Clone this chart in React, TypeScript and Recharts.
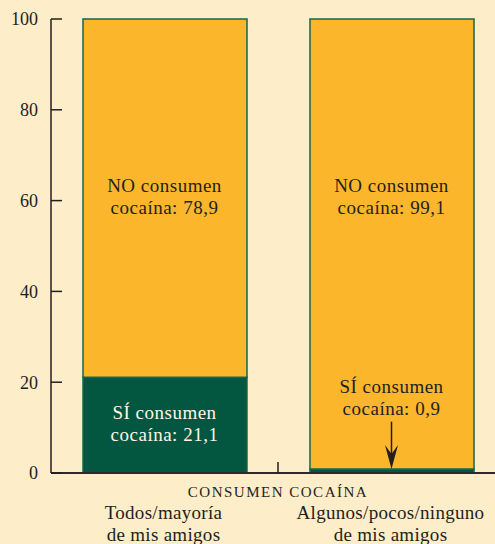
import React from "react"
import {
  ComposedChart,
  Bar,
  XAxis,
  YAxis,
  ReferenceDot,
  ReferenceLine,
} from "recharts"

const categories = [
  ["Todos/mayoría", "de mis amigos"],
  ["Algunos/pocos/ninguno", "de mis amigos"],
]
const siValues = [21.1, 0.9]
const noValues = [78.9, 99.1]
const yTicks = [0, 20, 40, 60, 80, 100]
const axisTitle = "CONSUMEN COCAÍNA"
const noLabelAt = [60.8, 60.8]
const siLabelAt = [11, 16.7]
const arrowFrom = 11.3
const arrowTo = 0.9

const BG = "#FDEDC9"
const ORANGE = "#FBB62B"
const GREEN = "#03563F"
const EDGE = "#17664C"
const INK = "#231F20"
const FONT = '"Liberation Serif", "Times New Roman", serif'

const data = categories.map((c, i) => ({
  pos: i + 0.5,
  si: siValues[i],
  no: noValues[i],
}))

function TwoLines({ cx, cy, lines, fill }: any) {
  return (
    <text
      x={cx}
      y={cy}
      textAnchor="middle"
      fontFamily={FONT}
      fontSize={19}
      letterSpacing={0.5}
      fill={fill}
    >
      <tspan x={cx} y={cy - 4.5}>{lines[0]}</tspan>
      <tspan x={cx} y={cy + 17.5}>{lines[1]}</tspan>
    </text>
  )
}

function XTick({ x, y, payload }: any) {
  const v = payload.value
  if (v === 1) {
    return (
      <g>
        <line x1={x} y1={y} x2={x} y2={y - 11} stroke={INK} strokeWidth={1.5} />
        <text
          x={x}
          y={y + 24}
          textAnchor="middle"
          fontFamily={FONT}
          fontSize={15}
          letterSpacing={1.5}
          fill={INK}
        >
          {axisTitle}
        </text>
      </g>
    )
  }
  const lines = categories[Math.floor(v)]
  return (
    <text
      x={x}
      y={y}
      textAnchor="middle"
      fontFamily={FONT}
      fontSize={19}
      letterSpacing={0.3}
      fill={INK}
    >
      <tspan x={x - 1} y={y + 46}>{lines[0]}</tspan>
      <tspan x={x - 1} y={y + 68}>{lines[1]}</tspan>
    </text>
  )
}

function Arrow({ x1, y1, x2, y2 }: any) {
  return (
    <g>
      <line x1={x1} y1={y1} x2={x2} y2={y2 - 10} stroke={INK} strokeWidth={1.5} />
      <path
        d={`M${x2},${y2} L${x2 - 6.5},${y2 - 24} L${x2},${y2 - 15} L${x2 + 6.5},${y2 - 24} Z`}
        fill={INK}
      />
    </g>
  )
}

export default function App() {
  return (
    <div
      style={{
        position: "absolute",
        left: 0,
        top: 0,
        width: 495,
        height: 544,
        overflow: "hidden",
        background: BG,
      }}
    >
      <ComposedChart
        width={520}
        height={544}
        data={data}
        margin={{ top: 19, right: 15, bottom: 0, left: 0 }}
      >
        <XAxis
          dataKey="pos"
          type="number"
          domain={[0, 2]}
          ticks={[0.5, 1, 1.5]}
          tick={<XTick />}
          tickLine={false}
          tickSize={0}
          tickMargin={0}
          height={71}
          axisLine={{ stroke: "#2E2A25", strokeWidth: 2 }}
          interval={0}
        />
        <YAxis
          domain={[0, 100]}
          ticks={yTicks}
          width={51}
          tickSize={-11}
          tickMargin={24}
          axisLine={{ stroke: INK, strokeWidth: 1.5 }}
          tickLine={{ stroke: INK, strokeWidth: 1.5 }}
          tick={{ fontFamily: FONT, fontSize: 18, fill: INK }}
        />
        <Bar
          dataKey="si"
          stackId="a"
          fill={GREEN}
          stroke={EDGE}
          strokeWidth={1.5}
          barSize={164}
          isAnimationActive={false}
        />
        <Bar
          dataKey="no"
          stackId="a"
          fill={ORANGE}
          stroke={EDGE}
          strokeWidth={1.5}
          barSize={164}
          isAnimationActive={false}
        />
        {data.map((d, i) => (
          <ReferenceDot
            key={"no" + i}
            x={d.pos}
            y={noLabelAt[i]}
            r={0}
            shape={(p: any) => (
              <TwoLines
                cx={p.cx}
                cy={p.cy}
                lines={["NO consumen", `cocaína: ${String(d.no).replace(".", ",")}`]}
                fill={INK}
              />
            )}
          />
        ))}
        {data.map((d, i) => (
          <ReferenceDot
            key={"si" + i}
            x={d.pos}
            y={siLabelAt[i]}
            r={0}
            shape={(p: any) => (
              <TwoLines
                cx={p.cx}
                cy={p.cy}
                lines={["SÍ consumen", `cocaína: ${String(d.si).replace(".", ",")}`]}
                fill={i === 0 ? "#FFF6E6" : INK}
              />
            )}
          />
        ))}
        <ReferenceLine
          segment={[
            { x: data[1].pos, y: arrowFrom },
            { x: data[1].pos, y: arrowTo },
          ]}
          shape={(p: any) => <Arrow {...p} />}
        />
      </ComposedChart>
    </div>
  )
}
